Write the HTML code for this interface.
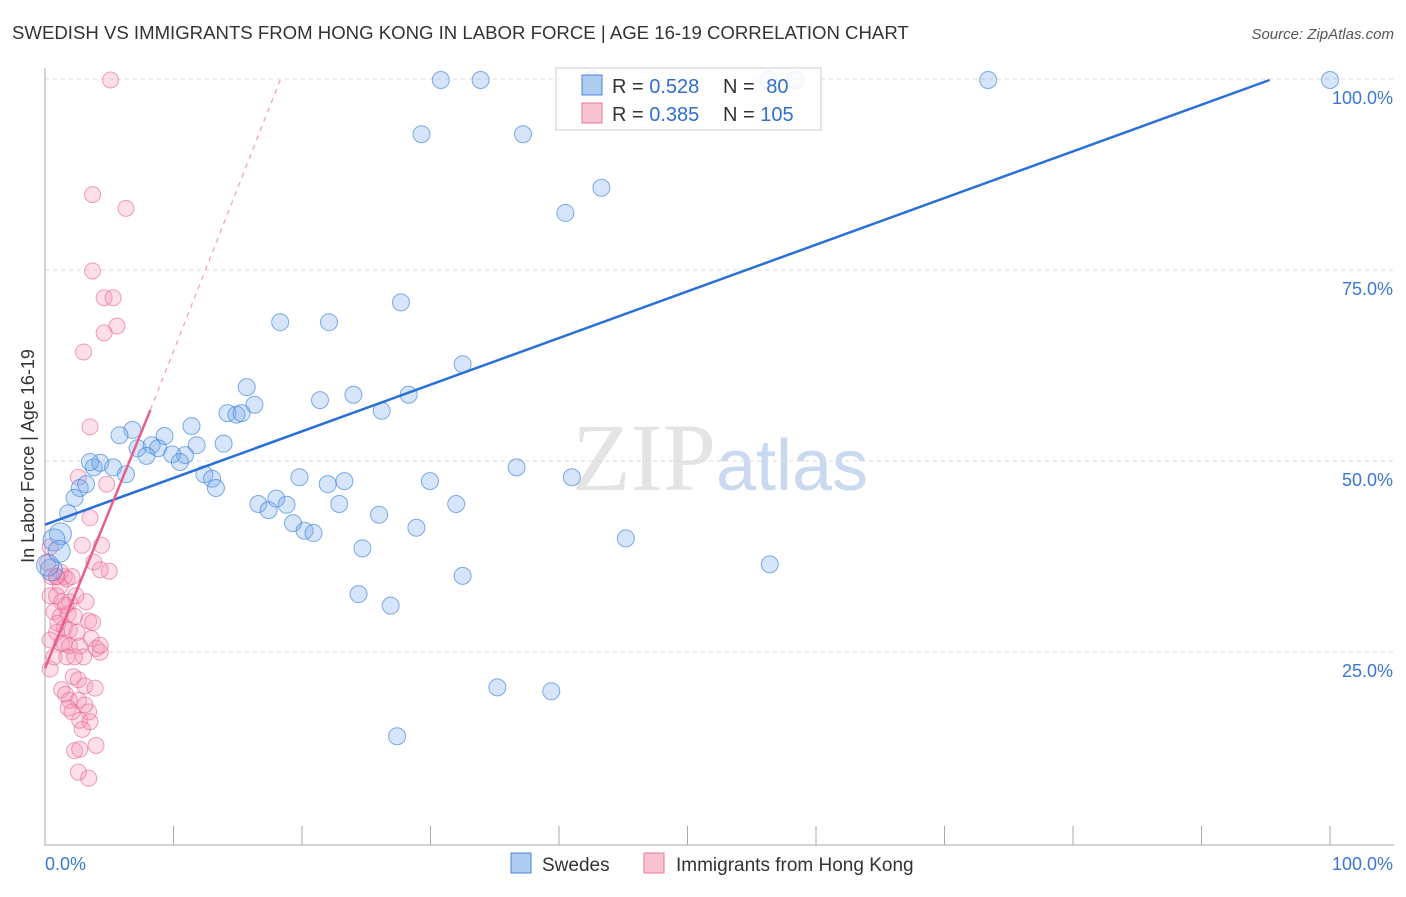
<!DOCTYPE html>
<html><head><meta charset="utf-8"><style>
body{margin:0;background:#fff;font-family:"Liberation Sans",sans-serif;}
</style></head><body>
<svg id="c" width="1406" height="892" xmlns="http://www.w3.org/2000/svg">
<text x="12" y="39" font-size="18.6" fill="#333">SWEDISH VS IMMIGRANTS FROM HONG KONG IN LABOR FORCE | AGE 16-19 CORRELATION CHART</text>
<text x="1394" y="39" font-size="15" fill="#555" font-style="italic" text-anchor="end">Source: ZipAtlas.com</text>
<text x="34" y="456" font-size="18" fill="#333" transform="rotate(-90 34 456)" text-anchor="middle">In Labor Force | Age 16-19</text>
<text x="720" y="490" font-size="96" fill="#e4e4e4" text-anchor="middle" font-family="Liberation Serif,serif">ZIP<tspan font-family="Liberation Sans,sans-serif" font-size="72" fill="#c9daf0">atlas</tspan></text>
<g id="grid"></g><g id="axes"></g><g id="pts"></g><g id="lines"></g>
<g>
<rect x="556" y="68" width="265" height="62" fill="#fff" fill-opacity="0.85" stroke="#ccc"/>
<rect x="582" y="75" width="20" height="20" fill="#aecbf0" stroke="#4a86d8"/>
<rect x="582" y="103" width="20" height="20" fill="#f9c3d2" stroke="#e77a9a"/>
<text x="612" y="93" font-size="20" fill="#333">R = <tspan fill="#2f6fce">0.528</tspan></text>
<text x="723" y="93" font-size="20" fill="#333">N = <tspan fill="#2f6fce" dx="6">80</tspan></text>
<text x="612" y="121" font-size="20" fill="#333">R = <tspan fill="#2f6fce">0.385</tspan></text>
<text x="723" y="121" font-size="20" fill="#333">N = <tspan fill="#2f6fce">105</tspan></text>
</g>
<g>
<rect x="511" y="853" width="20" height="20" fill="#aecbf0" stroke="#4a86d8"/>
<text x="542" y="871" font-size="19" fill="#333">Swedes</text>
<rect x="644" y="853" width="20" height="20" fill="#f9c3d2" stroke="#e77a9a"/>
<text x="676" y="871" font-size="19" fill="#333">Immigrants from Hong Kong</text>
</g>
</svg>
<script>
const yTicks=[25,50,75,100];
const yTickLabels=["25.0%","50.0%","75.0%","100.0%"];
const blueX=[30.8,33.9,42.6,56.3,58.4,73.4,100,29.3,37.2,43.3,40.5,27.7,18.3,22.1,32.5,15.7,16.3,14.2,14.9,15.3,21.4,24,28.3,26.2,6.8,11.4,5.8,9.3,7.2,8.3,8.8,7.9,11.8,13.9,10.9,9.9,10.5,3.8,4.3,5.3,6.3,12.4,13,13.3,19.8,22,23.3,29.96,36.7,41,16.6,17.4,18,18.8,19.3,20.2,20.9,22.9,26,28.9,32,24.7,45.2,32.5,24.4,26.9,56.4,35.2,39.4,27.4,2.7,3.2,2.3,1.8,1.2,0.7,0.5,0.2,1.1,3.5];
const blueY=[100,100,100,100,100,100,100,92.9,92.9,85.9,82.6,70.9,68.3,68.3,62.8,59.8,57.5,56.4,56.2,56.4,58.1,58.8,58.8,56.7,54.2,54.7,53.5,53.4,51.8,52.2,51.8,50.8,52.2,52.4,50.9,51,50,49.3,49.9,49.3,48.4,48.4,47.8,46.6,48.0,47.1,47.5,47.5,49.3,48.0,44.5,43.7,45.2,44.4,42,41,40.7,44.5,43.1,41.4,44.5,38.7,40,35.1,32.7,31.2,36.6,20.5,20,14.1,46.6,47.1,45.3,43.3,40.6,39.8,35.9,36.5,38.3,50];
const pinkX=[5.1,3.7,6.3,3.7,4.6,5.3,5.6,4.6,3,3.5,4.8,2.6,3.5,2.9,4.4,5,4.3,3.8,0.4,0.2,0.5,0.9,1.5,1.2,1.7,0.4,0.9,1.3,1.9,3.2,0.7,1.2,1.8,2.3,3.4,1.5,1.9,2.5,0.9,0.4,1.3,1.9,2.7,3.6,4,4.3,3.0,1.7,0.4,2.2,2.6,3.1,3.9,1.3,1.6,1.9,2.6,1.8,2.1,3.4,2.7,3.5,2.9,2.3,2.7,3.970,2.6,3.4,3.1,1.2,0.9,2.1,2.4,1.0,1.6,3.7,1.5,2.3,0.7,4.3];
const pinkY=[100,85,83.2,75,71.5,71.5,67.8,66.9,64.4,54.6,47.1,48,42.7,39.1,39.1,35.7,35.9,36.9,38.9,36.8,35,35,35,33.8,34.7,32.5,32.5,31.7,31.7,31.7,30.4,29.8,30.1,29.8,29.2,28.3,28,27.7,27.7,26.7,26.2,25.9,25.9,26.9,25.6,25.1,24.5,24.5,22.9,21.9,21.5,20.7,20.4,20.2,19.6,18.8,18.8,17.8,17.3,17.3,16.2,16,15,12.2,12.4,12.9,9.4,8.6,18.2,35.6,35,35,32.5,28.9,31.2,29,26.3,24.5,24.5,26,29];
const blueLine=[[0,41.8],[95.3,100]];
const pinkSolid=[[0,23],[8.2,56.8]];
const pinkDash=[[8.2,56.8],[18.3,100]];

const X0=45,X1=1330,Y0=844,YS=7.64;
const sx=v=>X0+(X1-X0)*v/100, sy=v=>Y0-v*YS;
const NS="http://www.w3.org/2000/svg";
function mk(parent,tag,attrs){const e=document.createElementNS(NS,tag);for(const k in attrs)e.setAttribute(k,attrs[k]);document.getElementById(parent).appendChild(e);return e;}
yTicks.forEach((t,i)=>{
 const g=mk('grid','line',{x1:X0,x2:1394,y1:sy(t)-1,y2:sy(t)-1,stroke:'#d8d8d8','stroke-dasharray':'4,4'});
 
 
 const l=mk('grid','text',{x:1393,y:sy(t)+24,'font-size':18,fill:'#3a78d4','text-anchor':'end'});
 l.textContent=yTickLabels[i];
 
 
});
const ax=mk('axes','line',{x1:X0,x2:X0,y1:68,y2:846,stroke:'#aaa'});


const bx=mk('axes','line',{x1:X0,x2:1394,y1:845,y2:845,stroke:'#aaa'});


for(let i=0;i<=10;i++){const t=mk('axes','line',{x1:X0+i*128.5,x2:X0+i*128.5,y1:826,y2:845,stroke:'#aaa'});
 
 }
[["0.0%",45,'start'],["100.0%",1393,'end']].forEach(a=>{const t=mk('axes','text',{x:a[1],y:870,'font-size':18,fill:'#3a78d4','text-anchor':a[2]});t.textContent=a[0];
 
 });
pinkX.forEach((x,i)=>{const c=mk('pts','circle',{cx:sx(x),cy:sy(pinkY[i]),r:8,fill:'rgba(245,150,180,0.3)',stroke:'rgba(230,100,140,0.6)'});
 
 });
blueX.forEach((x,i)=>{const c=mk('pts','circle',{cx:sx(x),cy:sy(blueY[i]),r:(x<1.5?11:8.5),fill:'rgba(120,170,235,0.3)',stroke:'rgba(60,130,220,0.65)'});
 
 });
const bl=mk('lines','line',{x1:sx(blueLine[0][0]),y1:sy(blueLine[0][1]),x2:sx(blueLine[1][0]),y2:sy(blueLine[1][1]),stroke:'#2a6fd6','stroke-width':2.5});


const ps=mk('lines','line',{x1:sx(pinkSolid[0][0]),y1:sy(pinkSolid[0][1]),x2:sx(pinkSolid[1][0]),y2:sy(pinkSolid[1][1]),stroke:'#e8608a','stroke-width':2.5});


const pd=mk('lines','line',{x1:sx(pinkDash[0][0]),y1:sy(pinkDash[0][1]),x2:sx(pinkDash[1][0]),y2:sy(pinkDash[1][1]),stroke:'#eda0b8','stroke-width':1.2,'stroke-dasharray':'5,5'});


</script>
</body></html>
